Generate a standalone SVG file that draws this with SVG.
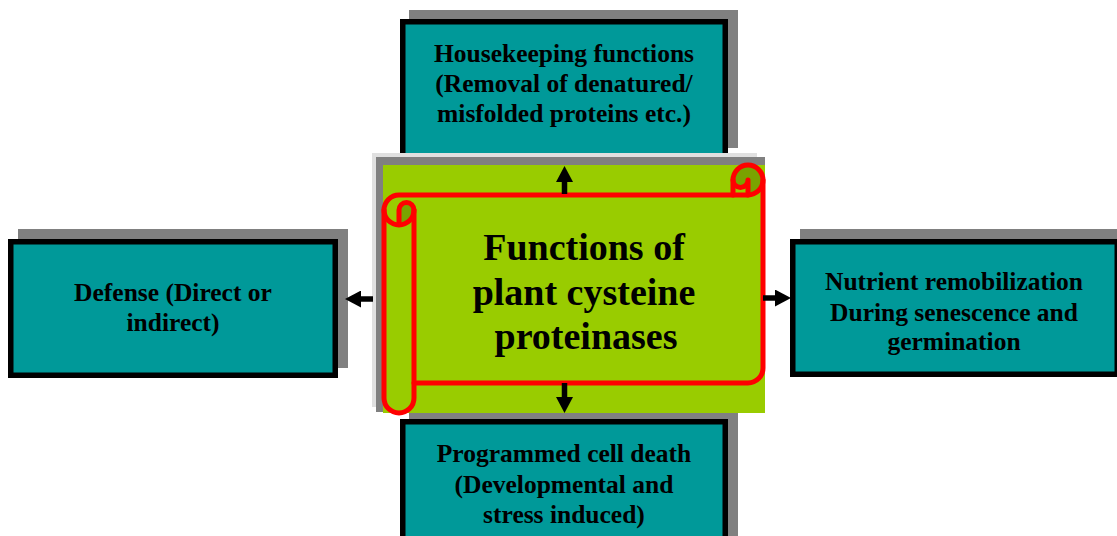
<svg xmlns="http://www.w3.org/2000/svg" width="1117" height="536" viewBox="0 0 1117 536">
<style>
.shadow{fill:#808080}
.box{fill:#009999;stroke:#000;stroke-width:5.5}
.t{font-family:"Liberation Serif","Times New Roman",serif;font-weight:bold;font-size:25.5px;fill:#000;text-anchor:middle}
.ct{font-family:"Liberation Serif","Times New Roman",serif;font-weight:bold;font-size:38px;fill:#000;text-anchor:middle}
.conn{stroke:#000;stroke-width:5.5;fill:none;marker-end:url(#ah)}
</style>
<defs>
<marker id="ah" markerUnits="userSpaceOnUse" markerWidth="16" markerHeight="17" viewBox="0 0 16 17" refX="1" refY="8.5" orient="auto">
<path d="M0,0 L16,8.5 L0,17 Z" fill="#000"/>
</marker>
</defs>
<rect width="1117" height="536" fill="#fff"/>

<g id="node-housekeeping">
<rect class="shadow" x="409" y="10" width="329" height="138"/>
<rect class="box" x="402.75" y="21.75" width="322.5" height="140"/>
<text class="t" x="564" y="61.5">Housekeeping functions</text>
<text class="t" x="564" y="92">(Removal of denatured/</text>
<text class="t" x="564" y="122">misfolded proteins etc.)</text>
</g>

<g id="node-defense">
<rect class="shadow" x="18" y="229" width="330" height="139"/>
<rect class="box" x="10.75" y="241.75" width="324.5" height="133.5"/>
<text class="t" x="173" y="301">Defense (Direct or</text>
<text class="t" x="173" y="331">indirect)</text>
</g>

<g id="node-nutrient">
<rect class="shadow" x="800" y="229" width="330" height="138"/>
<rect class="box" x="792.75" y="241.75" width="324.5" height="132.5"/>
<text class="t" x="954" y="290">Nutrient remobilization</text>
<text class="t" x="954" y="320.5">During senescence and</text>
<text class="t" x="954" y="350">germination</text>
</g>

<g id="node-pcd">
<rect class="shadow" x="409" y="410" width="329" height="140"/>
<rect class="box" x="402.75" y="421.75" width="322.5" height="140"/>
<text class="t" x="564" y="462">Programmed cell death</text>
<text class="t" x="564" y="493">(Developmental and</text>
<text class="t" x="564" y="523">stress induced)</text>
</g>

<g id="node-center">
<rect x="372" y="153" width="385" height="254" fill="#e0e0e0"/>
<rect x="376" y="157" width="389" height="255" fill="#808080"/>
<rect x="383" y="165" width="382" height="248" fill="#99cc00"/>
<path d="M384,210 A15,15 0 0 1 399,195 L733,195 L733,180 A15,15 0 0 1 763,180 L763,368 A15,15 0 0 1 748,383 L414,383 L414,398 A15,15 0 0 1 384,398 Z" fill="#99cc00"/>
<path d="M748,195 A15,15 0 1 0 733,180 A7.5,7.5 0 0 0 748,180 Z" fill="#7aa300"/>
<path d="M399,225 A15,15 0 0 0 414,210 A7.5,7.5 0 0 0 399,210 Z" fill="#7aa300"/>
<g fill="none" stroke="#ff0000" stroke-width="5" stroke-linejoin="round" stroke-linecap="round">
<path d="M384,210 A15,15 0 0 1 399,195 L733,195 L733,180 A15,15 0 0 1 763,180 L763,368 A15,15 0 0 1 748,383 L414,383 L414,398 A15,15 0 0 1 384,398 Z"/>
<path d="M733,195 L748,195 A15,15 0 0 0 763,180"/>
<path d="M748,195 L748,180 A7.5,7.5 0 0 1 733,180"/>
<path d="M399,225 L399,210 A7.5,7.5 0 0 1 414,210 A15,15 0 0 1 384,210"/>
<path d="M414,210 L414,383"/>
</g>
<text class="ct" x="584" y="260">Functions of</text>
<text class="ct" x="584" y="304.5">plant cysteine</text>
<text class="ct" x="586" y="349">proteinases</text>
</g>

<g id="connectors">
<line class="conn" x1="564.5" y1="194" x2="564.5" y2="181"/>
<line class="conn" x1="564.5" y1="383" x2="564.5" y2="398"/>
<line class="conn" x1="373" y1="299" x2="360" y2="299"/>
<line class="conn" x1="763" y1="298" x2="776" y2="298"/>
</g>
</svg>
